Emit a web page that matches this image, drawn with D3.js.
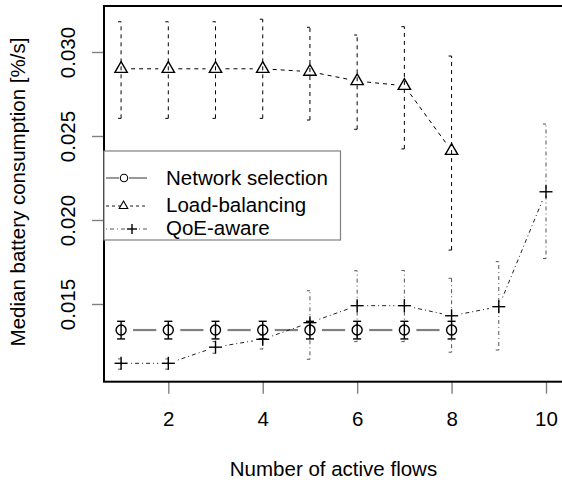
<!DOCTYPE html>
<html>
<head>
<meta charset="utf-8">
<script src="https://cdn.jsdelivr.net/npm/d3@7"></script>
<style>
  body { margin: 0; background: #fff; }
  text { font-family: "Liberation Sans", Arial, sans-serif; }
</style>
</head>
<body>
<div id="chart"></div>
<script>
// values
var nsFlows = [1, 2, 3, 4, 5, 6, 7, 8];
var nsMedian = [0.01345, 0.01345, 0.01345, 0.01345, 0.01345, 0.01345, 0.01345, 0.01345];
var nsLow = [0.01292, 0.01292, 0.01292, 0.01292, 0.01292, 0.01292, 0.01292, 0.01292];
var nsHigh = [0.01397, 0.01397, 0.01397, 0.01397, 0.01397, 0.01397, 0.01397, 0.01397];

var lbFlows = [1, 2, 3, 4, 5, 6, 7, 8];
var lbMedian = [0.0290, 0.0290, 0.0290, 0.0290, 0.02883, 0.02827, 0.02799, 0.02412];
var lbLow = [0.02605, 0.02605, 0.02605, 0.02605, 0.02595, 0.0254, 0.02423, 0.01821];
var lbHigh = [0.0318, 0.0318, 0.0318, 0.03195, 0.03147, 0.03101, 0.03151, 0.02976];

var qoeFlows = [1, 2, 3, 4, 5, 6, 7, 8, 9, 10];
var qoeMedian = [0.01147, 0.01147, 0.01243, 0.0129, 0.01389, 0.0149, 0.0149, 0.0143, 0.01484, 0.02168];
var qoeLow = [0.01112, 0.01112, 0.01207, 0.01232, 0.01171, 0.01276, 0.01276, 0.01213, 0.01226, 0.01771];
var qoeHigh = [0.01173, 0.01173, 0.01276, 0.01315, 0.01579, 0.01698, 0.0170, 0.01653, 0.01752, 0.02571];

var xTicks = [2, 4, 6, 8, 10];
var yTicks = [0.015, 0.020, 0.025, 0.030];
var legendNames = ["Network selection", "Load-balancing", "QoE-aware"];

var W = 562, H = 480;
var fontSize = "20.5px";

var svg = d3.select("#chart").append("svg")
    .attr("width", W)
    .attr("height", H);

// plot region (right edge runs off the canvas like the original)
var pLeft = 104, pRight = 563, pTop = 6, pBottom = 381.7;

var x = d3.scaleLinear().domain([0.638, 10.36]).range([pLeft, pRight]);
var y = d3.scaleLinear().domain([0.010375, 0.032738]).range([pBottom, pTop]);

function rows(fl, med, lo, hi) {
    return fl.map(function(f, i) { return {x: f, m: med[i], lo: lo[i], hi: hi[i]}; });
}
var ns = rows(nsFlows, nsMedian, nsLow, nsHigh);
var lb = rows(lbFlows, lbMedian, lbLow, lbHigh);
var qoe = rows(qoeFlows, qoeMedian, qoeLow, qoeHigh);

// R type="b": segments with a gap around each point
function gapSegments(g, data, gap, stroke, width, dash) {
    for (var i = 0; i < data.length - 1; i++) {
        var x1 = x(data[i].x), y1 = y(data[i].m), x2 = x(data[i + 1].x), y2 = y(data[i + 1].m);
        var len = Math.sqrt((x2 - x1) * (x2 - x1) + (y2 - y1) * (y2 - y1));
        if (len <= 2 * gap) continue;
        var ux = (x2 - x1) / len, uy = (y2 - y1) / len;
        g.append("line")
            .attr("x1", x1 + ux * gap).attr("y1", y1 + uy * gap)
            .attr("x2", x2 - ux * gap).attr("y2", y2 - uy * gap)
            .attr("stroke", stroke)
            .attr("stroke-width", width)
            .attr("stroke-dasharray", dash);
    }
}

function errorBars(g, data, stroke, width, dash, capL, capR) {
    var bars = g.selectAll(null).data(data).enter().append("g");
    bars.append("line")
        .attr("x1", function(d) { return x(d.x); })
        .attr("x2", function(d) { return x(d.x); })
        .attr("y1", function(d) { return y(d.lo); })
        .attr("y2", function(d) { return y(d.hi); })
        .attr("stroke", stroke).attr("stroke-width", width).attr("stroke-dasharray", dash);
    ["lo", "hi"].forEach(function(k) {
        bars.append("line")
            .attr("x1", function(d) { return x(d.x) - capL; })
            .attr("x2", function(d) { return x(d.x) + capR; })
            .attr("y1", function(d) { return y(d[k]); })
            .attr("y2", function(d) { return y(d[k]); })
            .attr("stroke", stroke).attr("stroke-width", width);
    });
}

var plot = svg.append("g");

// error bars
errorBars(plot, lb, "#000", 1, "4,4", 3, 0);
errorBars(plot, qoe, "#555", 1, "1,3,4,3", 3, 0);
errorBars(plot, ns, "#000", 1.4, null, 4, 4);

// lines
gapSegments(plot, ns, 12, "#808080", 2.2, null);
gapSegments(plot, lb, 10, "#000", 1, "4,4");
gapSegments(plot, qoe, 10, "#222", 1, "1,3,4,3");

// point symbols
plot.selectAll(".circ").data(ns).enter().append("circle")
    .attr("cx", function(d) { return x(d.x); })
    .attr("cy", function(d) { return y(d.m); })
    .attr("r", 5)
    .attr("fill", "none").attr("stroke", "#000").attr("stroke-width", 1.4);

var tri = d3.symbol().type(d3.symbolTriangle).size(66);
plot.selectAll(".tri").data(lb).enter().append("path")
    .attr("d", tri)
    .attr("transform", function(d) { return "translate(" + x(d.x) + "," + y(d.m) + ")"; })
    .attr("fill", "none").attr("stroke", "#000").attr("stroke-width", 1.4);

function plus(g, cx, cy, r) {
    g.append("line").attr("x1", cx - r).attr("x2", cx + r).attr("y1", cy).attr("y2", cy)
        .attr("stroke", "#000").attr("stroke-width", 1.4);
    g.append("line").attr("x1", cx).attr("x2", cx).attr("y1", cy - r).attr("y2", cy + r)
        .attr("stroke", "#000").attr("stroke-width", 1.4);
}
qoe.forEach(function(d) { plus(plot, x(d.x), y(d.m), 6.5); });

// axes (ticks only, labels placed like R)
var xAxis = svg.append("g")
    .attr("transform", "translate(0," + pBottom + ")")
    .call(d3.axisBottom(x).tickValues(xTicks).tickSize(12).tickFormat(function(d) { return d; }));
xAxis.select(".domain").remove();
xAxis.selectAll("line").attr("stroke", "#808080").attr("stroke-width", 1.4);
xAxis.selectAll("text")
    .attr("y", 426.5 - pBottom).attr("dy", null)
    .attr("fill", "#000").style("font-size", fontSize);

var yAxis = svg.append("g")
    .attr("transform", "translate(" + pLeft + ",0)")
    .call(d3.axisLeft(y).tickValues(yTicks).tickSize(12).tickFormat(d3.format(".3f")));
yAxis.select(".domain").remove();
yAxis.selectAll("line").attr("stroke", "#808080").attr("stroke-width", 1.4);
yAxis.selectAll("text")
    .attr("x", null).attr("dy", null)
    .attr("text-anchor", "middle")
    .attr("transform", "translate(" + (75 - pLeft) + ",0) rotate(-90)")
    .attr("fill", "#000").style("font-size", fontSize);

// box
svg.append("rect")
    .attr("x", pLeft).attr("y", pTop)
    .attr("width", pRight - pLeft + 4).attr("height", pBottom - pTop)
    .attr("fill", "none").attr("stroke", "#000").attr("stroke-width", 2);

// axis titles
svg.append("text")
    .attr("x", (pLeft + pRight) / 2).attr("y", 476)
    .attr("text-anchor", "middle")
    .style("font-size", fontSize)
    .text("Number of active flows");

svg.append("text")
    .attr("transform", "translate(25," + 192 + ") rotate(-90)")
    .attr("text-anchor", "middle")
    .style("font-size", fontSize)
    .text("Median battery consumption [%/s]");

// legend
var lg = svg.append("g");
lg.append("rect")
    .attr("x", pLeft).attr("y", 151)
    .attr("width", 340.5 - pLeft).attr("height", 240 - 151)
    .attr("fill", "#fff").attr("stroke", "#808080").attr("stroke-width", 1.2);

var legRows = [178, 206, 229];
var legBase = [184.5, 211.5, 234.5];
var legSym = [124, 123.5, 132];

lg.append("line").attr("x1", pLeft + 2).attr("x2", legSym[0] - 5).attr("y1", legRows[0]).attr("y2", legRows[0])
    .attr("stroke", "#808080").attr("stroke-width", 1.6);
lg.append("line").attr("x1", legSym[0] + 5).attr("x2", 147).attr("y1", legRows[0]).attr("y2", legRows[0])
    .attr("stroke", "#808080").attr("stroke-width", 1.6);
lg.append("circle").attr("cx", legSym[0]).attr("cy", legRows[0]).attr("r", 3.7)
    .attr("fill", "none").attr("stroke", "#000").attr("stroke-width", 1.1);

lg.append("line").attr("x1", pLeft + 2).attr("x2", 147).attr("y1", legRows[1]).attr("y2", legRows[1])
    .attr("stroke", "#000").attr("stroke-width", 0.9).attr("stroke-dasharray", "3,3");
lg.append("path")
    .attr("d", d3.symbol().type(d3.symbolTriangle).size(32))
    .attr("transform", "translate(" + legSym[1] + "," + legRows[1] + ")")
    .attr("fill", "#fff").attr("stroke", "#000").attr("stroke-width", 1.1);

lg.append("line").attr("x1", pLeft + 2).attr("x2", 147).attr("y1", legRows[2]).attr("y2", legRows[2])
    .attr("stroke", "#444").attr("stroke-width", 0.9).attr("stroke-dasharray", "1,3,4,3");
lg.append("rect").attr("x", legSym[2] - 4).attr("y", legRows[2] - 4).attr("width", 8).attr("height", 8).attr("fill", "#fff");
plus(lg, legSym[2], legRows[2], 5);

legendNames.forEach(function(n, i) {
    lg.append("text")
        .attr("x", 166).attr("y", legBase[i])
        .style("font-size", fontSize)
        .text(n);
});
</script>
</body>
</html>
